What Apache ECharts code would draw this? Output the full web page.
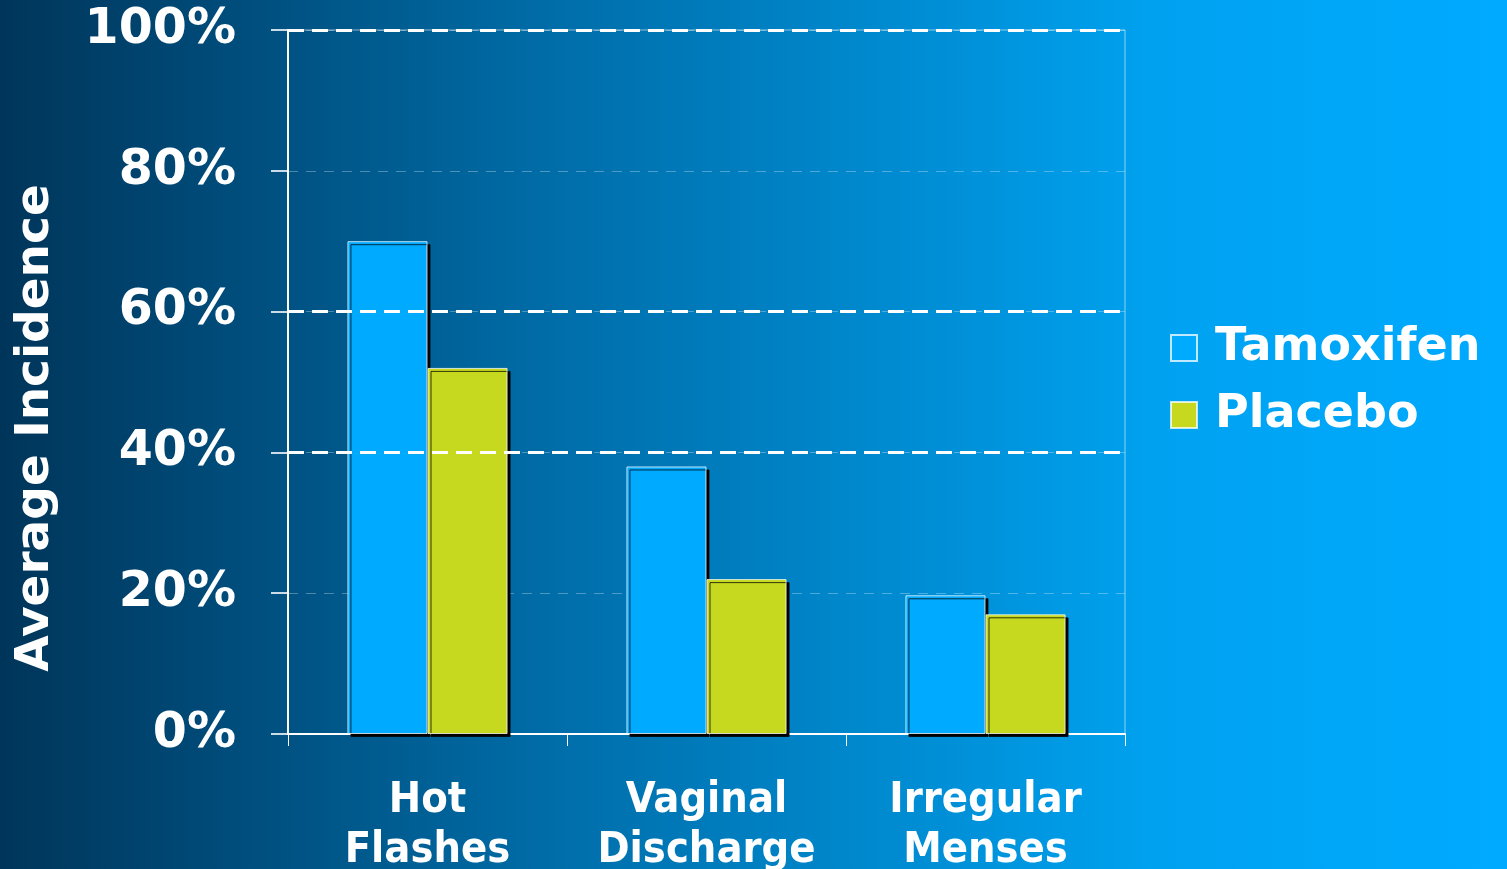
<!DOCTYPE html>
<html>
<head>
<meta charset="utf-8">
<script src="https://cdn.jsdelivr.net/npm/echarts@6/dist/echarts.min.js"></script>
<style>
html,body{margin:0;padding:0;width:1507px;height:869px;overflow:hidden;}
#c{width:1507px;height:869px;}
</style>
</head>
<body>
<div id="c"></div>
<script>
const categories = ["Hot\nFlashes", "Vaginal\nDischarge", "Irregular\nMenses"];
const tamoxifen = [70, 38, 19.7];
const placebo = [52, 22, 17];
const seriesNames = ["Tamoxifen", "Placebo"];
const yTicks = [0, 20, 40, 60, 80, 100];
const majorGridLines = [40, 60, 100];
const yTitle = "Average Incidence";

const chart = echarts.init(document.getElementById('c'), null, {renderer: 'canvas'});
const barStyle = (color) => ({
  color: color,
  borderColor: 'rgba(255,255,255,0.75)',
  borderWidth: 1,
  shadowColor: '#000',
  shadowOffsetX: 3,
  shadowOffsetY: 3,
  shadowBlur: 0
});
chart.setOption({
  backgroundColor: {
    type: 'linear', x: 0, y: 0, x2: 1, y2: 0,
    colorStops: [
      {offset: 0, color: '#00355a'},
      {offset: 0.38, color: '#006fab'},
      {offset: 0.77, color: '#00a2f0'},
      {offset: 1, color: '#00aaff'}
    ]
  },
  animation: false,
  grid: {left: 288, right: 382, top: 30, bottom: 135, containLabel: false, outerBoundsMode: 'none',
         show: true, borderColor: 'rgba(255,255,255,0.55)', borderWidth: 1},
  legend: {
    orient: 'vertical', left: 1165, top: 315, itemGap: 11,
    itemWidth: 26, itemHeight: 26, icon: 'rect',
    data: seriesNames,
    textStyle: {color: '#fff', fontFamily: 'DejaVu Sans', fontWeight: 'bold', fontSize: 46, lineHeight: 56, padding: [0, 0, 0, 13]}
  },
  graphic: [{
    type: 'text', x: 36, y: 428, rotation: Math.PI / 2,
    style: {text: yTitle, fill: '#fff', font: 'bold 47px "DejaVu Sans"', textAlign: 'center', textVerticalAlign: 'middle'}
  }],
  xAxis: {
    type: 'category', data: categories,
    axisLine: {lineStyle: {color: '#fff', width: 2}},
    axisTick: {show: true, length: 12, lineStyle: {color: '#fff', width: 1}},
    axisLabel: {interval: 0, hideOverlap: false, color: '#fff', fontFamily: '"DejaVu Sans Condensed", "Liberation Sans Narrow", sans-serif', fontWeight: 'bold', fontSize: 43, lineHeight: 50, margin: 42}
  },
  yAxis: {
    type: 'value', min: yTicks[0], max: yTicks[yTicks.length - 1], interval: 20,
    axisLine: {show: true, lineStyle: {color: '#fff', width: 2}},
    axisTick: {show: true, length: 17, lineStyle: {color: 'rgba(255,255,255,0.8)', width: 2}},
    axisLabel: {color: '#fff', fontFamily: 'DejaVu Sans', fontWeight: 'bold', fontSize: 49, margin: 52, formatter: '{value}%'},
    splitLine: {show: true, lineStyle: {color: 'rgba(255,255,255,0.3)', width: 1, type: [10, 8]}}
  },
  series: [
    {
      name: seriesNames[0], type: 'bar', data: tamoxifen, barGap: '0%', barCategoryGap: '42.6%',
      itemStyle: barStyle('#00aaff'),
      markLine: {
        silent: true, symbol: 'none', label: {show: false},
        lineStyle: {color: '#fff', width: 3, type: [16, 8]},
        data: majorGridLines.map(v => ({yAxis: v}))
      },
      z: 2
    },
    {
      name: seriesNames[1], type: 'bar', data: placebo,
      itemStyle: barStyle('#c6d91e'),
      z: 3
    }
  ]
});
</script>
</body>
</html>
